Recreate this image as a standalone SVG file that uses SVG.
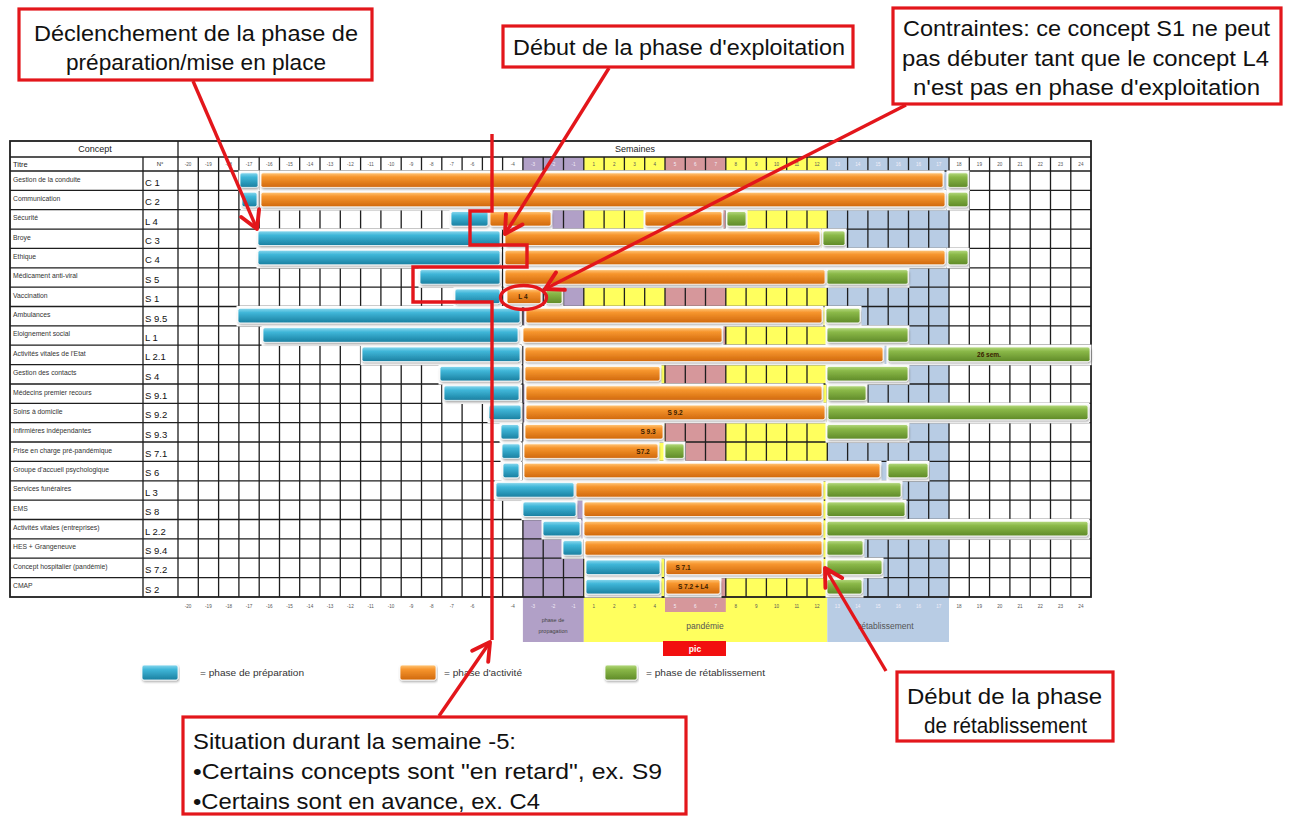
<svg xmlns="http://www.w3.org/2000/svg" width="1290" height="816" viewBox="0 0 1290 816">
<style>
text{font-family:"Liberation Sans",Arial,sans-serif}
.wk{font-size:4.6px;fill:#555;text-anchor:middle}
.wkw{fill:#f3eef8}
.ttl{font-size:6.8px;fill:#333}
.num{font-size:9.5px;fill:#111}
.hd{font-size:9px;fill:#222}
.bt{font-size:6.5px;font-weight:bold;fill:#3b1d00;text-anchor:middle}
.ann{font-size:22px;fill:#111}
.box{fill:#fff;stroke:#e3161b;stroke-width:3.2}
.red{fill:none;stroke:#e3161b;stroke-width:3.4}
.grid{stroke:#1e1e1e;stroke-width:1.3;fill:none}
.halo{fill:#fff}
.b{fill:url(#gb)}.o{fill:url(#go)}.g{fill:url(#gg)}
.bar{stroke:#fff;stroke-width:0.8;filter:url(#sh)}
.pu{fill:#b1a0c7}.ye{fill:#ffff5e}.pk{fill:#d6979b}.bl{fill:#b8cce4}
.lg{font-size:9px;fill:#333}
</style>
<defs>
<linearGradient id="gb" x1="0" y1="0" x2="0" y2="1"><stop offset="0" stop-color="#8ad8ee"/><stop offset="0.3" stop-color="#3fb6d8"/><stop offset="1" stop-color="#1a7fa0"/></linearGradient>
<linearGradient id="go" x1="0" y1="0" x2="0" y2="1"><stop offset="0" stop-color="#ffc77a"/><stop offset="0.28" stop-color="#f7962e"/><stop offset="1" stop-color="#d0680c"/></linearGradient>
<linearGradient id="gg" x1="0" y1="0" x2="0" y2="1"><stop offset="0" stop-color="#b5d97f"/><stop offset="0.3" stop-color="#8ab848"/><stop offset="1" stop-color="#5f8a28"/></linearGradient>
<filter id="sh" x="-5%" y="-30%" width="110%" height="170%"><feDropShadow dx="0.8" dy="1.5" stdDeviation="0.8" flood-color="#000" flood-opacity="0.35"/></filter>
<marker id="ah" markerUnits="userSpaceOnUse" markerWidth="26" markerHeight="26" viewBox="0 0 24 24" refX="21" refY="12" orient="auto"><path d="M5,3 L21,12 L5,21" fill="none" stroke="#e3161b" stroke-width="3.6" stroke-linecap="round" stroke-linejoin="round"/></marker>
</defs>
<rect width="1290" height="816" fill="#fff"/>

<g id="table">
<rect x="10" y="141" width="1081" height="456" fill="#fff"/>
<rect class="pu" x="522.9" y="157" width="60.9" height="440"/>
<rect class="ye" x="583.8" y="157" width="81.2" height="440"/>
<rect class="pk" x="665" y="157" width="60.8" height="440"/>
<rect class="ye" x="725.8" y="157" width="101.5" height="440"/>
<rect class="bl" x="827.3" y="157" width="121.7" height="440"/>
<rect class="pu" x="522.9" y="597" width="60.9" height="45"/>
<rect class="ye" x="583.8" y="597" width="243.5" height="45"/>
<rect class="pk" x="665" y="597" width="60.8" height="15"/>
<rect class="bl" x="827.3" y="597" width="121.7" height="45"/>
<path class="grid" d="M178,157V597M198.3,157V597M218.6,157V597M238.9,157V597M259.2,157V597M279.5,157V597M299.7,157V597M320,157V597M340.3,157V597M360.6,157V597M380.9,157V597M401.2,157V597M421.5,157V597M441.8,157V597M462.1,157V597M482.4,157V597M502.6,157V597M522.9,157V597M543.2,157V597M563.5,157V597M583.8,157V597M604.1,157V597M624.4,157V597M644.7,157V597M665,157V597M685.3,157V597M705.5,157V597M725.8,157V597M746.1,157V597M766.4,157V597M786.7,157V597M807,157V597M827.3,157V597M847.6,157V597M867.9,157V597M888.2,157V597M908.5,157V597M928.7,157V597M949,157V597M969.3,157V597M989.6,157V597M1009.9,157V597M1030.2,157V597M1050.5,157V597M1070.8,157V597"/>
<path class="grid" d="M10,157H1091M10,171H1091M10,190.4H1091M10,209.7H1091M10,229.1H1091M10,248.4H1091M10,267.8H1091M10,287.2H1091M10,306.5H1091M10,325.9H1091M10,345.2H1091M10,364.6H1091M10,384H1091M10,403.3H1091M10,422.7H1091M10,442H1091M10,461.4H1091M10,480.8H1091M10,500.1H1091M10,519.5H1091M10,538.8H1091M10,558.2H1091M10,577.6H1091M143,157V597M178,141V157"/>
<rect x="10" y="141" width="1081" height="456" fill="none" stroke="#1e1e1e" stroke-width="1.8"/>
<text class="hd" x="95" y="152" text-anchor="middle">Concept</text>
<text class="hd" x="635" y="152" text-anchor="middle">Semaines</text>
<text x="13" y="167" style="font-size:7.5px;fill:#222">Titre</text>
<text x="160" y="166" style="font-size:6px;fill:#222" text-anchor="middle">N°</text>
<g class="wk">
<text x="188.1" y="166">-20</text><text x="208.4" y="166">-19</text><text x="228.7" y="166">-18</text><text x="249" y="166">-17</text><text x="269.3" y="166">-16</text><text x="289.6" y="166">-15</text><text x="309.9" y="166">-14</text><text x="330.1" y="166">-13</text><text x="350.4" y="166">-12</text><text x="370.7" y="166">-11</text><text x="391" y="166">-10</text><text x="411.3" y="166">-9</text><text x="431.6" y="166">-8</text><text x="451.9" y="166">-7</text><text x="472.2" y="166">-6</text><text x="512.8" y="166">-4</text>
<text class="wkw" x="533" y="166">-3</text><text class="wkw" x="553.3" y="166">-2</text><text class="wkw" x="573.6" y="166">-1</text>
<text x="593.9" y="166">1</text><text x="614.2" y="166">2</text><text x="634.5" y="166">3</text><text x="654.8" y="166">4</text>
<text class="wkw" x="675.1" y="166">5</text><text class="wkw" x="695.4" y="166">6</text><text class="wkw" x="715.7" y="166">7</text>
<text x="735.9" y="166">8</text><text x="756.2" y="166">9</text><text x="776.5" y="166">10</text><text x="796.8" y="166">11</text><text x="817.1" y="166">12</text>
<text class="wkw" x="837.4" y="166">13</text><text class="wkw" x="857.7" y="166">14</text><text class="wkw" x="878" y="166">15</text><text class="wkw" x="898.3" y="166">16</text><text class="wkw" x="918.6" y="166">16</text><text class="wkw" x="938.8" y="166">17</text>
<text x="959.1" y="166">18</text><text x="979.4" y="166">19</text><text x="999.7" y="166">20</text><text x="1020" y="166">21</text><text x="1040.3" y="166">22</text><text x="1060.6" y="166">23</text><text x="1080.9" y="166">24</text>
</g>
<g class="wk">
<text x="188.1" y="608">-20</text><text x="208.4" y="608">-19</text><text x="228.7" y="608">-18</text><text x="249" y="608">-17</text><text x="269.3" y="608">-16</text><text x="289.6" y="608">-15</text><text x="309.9" y="608">-14</text><text x="330.1" y="608">-13</text><text x="350.4" y="608">-12</text><text x="370.7" y="608">-11</text><text x="391" y="608">-10</text><text x="411.3" y="608">-9</text><text x="431.6" y="608">-8</text><text x="451.9" y="608">-7</text><text x="472.2" y="608">-6</text><text x="512.8" y="608">-4</text>
<text class="wkw" x="533" y="608">-3</text><text class="wkw" x="553.3" y="608">-2</text><text class="wkw" x="573.6" y="608">-1</text>
<text x="593.9" y="608">1</text><text x="614.2" y="608">2</text><text x="634.5" y="608">3</text><text x="654.8" y="608">4</text>
<text class="wkw" x="675.1" y="608">5</text><text class="wkw" x="695.4" y="608">6</text><text class="wkw" x="715.7" y="608">7</text>
<text x="735.9" y="608">8</text><text x="756.2" y="608">9</text><text x="776.5" y="608">10</text><text x="796.8" y="608">11</text><text x="817.1" y="608">12</text>
<text class="wkw" x="837.4" y="608">13</text><text class="wkw" x="857.7" y="608">14</text><text class="wkw" x="878" y="608">15</text><text class="wkw" x="898.3" y="608">16</text><text class="wkw" x="918.6" y="608">16</text><text class="wkw" x="938.8" y="608">17</text>
<text x="959.1" y="608">18</text><text x="979.4" y="608">19</text><text x="999.7" y="608">20</text><text x="1020" y="608">21</text><text x="1040.3" y="608">22</text><text x="1060.6" y="608">23</text><text x="1080.9" y="608">24</text>
</g>
<text x="553" y="622" style="font-size:5.5px;fill:#444" text-anchor="middle">phase de</text>
<text x="553" y="633" style="font-size:5.5px;fill:#444" text-anchor="middle">propagation</text>
<text x="705" y="629" style="font-size:8.5px;fill:#555" text-anchor="middle">pandémie</text>
<text x="886" y="629" style="font-size:8.5px;fill:#555" text-anchor="middle">rétablissement</text>
<rect x="663" y="641" width="63" height="15" fill="#f20f0f"/>
<text x="695" y="652" style="font-size:8.5px;font-weight:bold;fill:#fff" text-anchor="middle">pic</text>
<g class="ttl">
<text x="13" y="181.5">Gestion de la conduite</text>
<text x="13" y="200.9">Communication</text>
<text x="13" y="220.2">Sécurité</text>
<text x="13" y="239.6">Broye</text>
<text x="13" y="258.9">Ethique</text>
<text x="13" y="278.3">Médicament anti-viral</text>
<text x="13" y="297.7">Vaccination</text>
<text x="13" y="317">Ambulances</text>
<text x="13" y="336.4">Eloignement social</text>
<text x="13" y="355.7">Activités vitales de l'Etat</text>
<text x="13" y="375.1">Gestion des contacts</text>
<text x="13" y="394.5">Médecins premier recours</text>
<text x="13" y="413.8">Soins à domicile</text>
<text x="13" y="433.2">Infirmières indépendantes</text>
<text x="13" y="452.5">Prise en charge pré-pandémique</text>
<text x="13" y="471.9">Groupe d'accueil psychologique</text>
<text x="13" y="491.3">Services funéraires</text>
<text x="13" y="510.6">EMS</text>
<text x="13" y="530">Activités vitales (entreprises)</text>
<text x="13" y="549.3">HES + Grangeneuve</text>
<text x="13" y="568.7">Concept hospitalier (pandémie)</text>
<text x="13" y="588.1">CMAP</text>
</g>
<g class="num">
<text x="145" y="186">C 1</text>
<text x="145" y="205.4">C 2</text>
<text x="145" y="224.7">L 4</text>
<text x="145" y="244.1">C 3</text>
<text x="145" y="263.4">C 4</text>
<text x="145" y="282.8">S 5</text>
<text x="145" y="302.2">S 1</text>
<text x="145" y="321.5">S 9.5</text>
<text x="145" y="340.9">L 1</text>
<text x="145" y="360.2">L 2.1</text>
<text x="145" y="379.6">S 4</text>
<text x="145" y="399">S 9.1</text>
<text x="145" y="418.3">S 9.2</text>
<text x="145" y="437.7">S 9.3</text>
<text x="145" y="457">S 7.1</text>
<text x="145" y="476.4">S 6</text>
<text x="145" y="495.8">L 3</text>
<text x="145" y="515.1">S 8</text>
<text x="145" y="534.5">L 2.2</text>
<text x="145" y="553.8">S 9.4</text>
<text x="145" y="573.2">S 7.2</text>
<text x="145" y="592.6">S 2</text>
</g>
</g>

<g id="halos" class="halo">
<rect x="238.5" y="170.4" width="21" height="20.6"/><rect x="259.5" y="170.4" width="685" height="20.6"/><rect x="946.5" y="170.4" width="23" height="20.6"/>
<rect x="240.5" y="189.8" width="18" height="20.6"/><rect x="259.5" y="189.8" width="687" height="20.6"/><rect x="946.5" y="189.8" width="23" height="20.6"/>
<rect x="449.5" y="209.1" width="40" height="20.6"/><rect x="488.5" y="209.1" width="64" height="20.6"/><rect x="643.5" y="209.1" width="80" height="20.6"/><rect x="725.5" y="209.1" width="22" height="20.6"/>
<rect x="256.5" y="228.5" width="245" height="20.6"/><rect x="503.5" y="228.5" width="318" height="20.6"/><rect x="821.5" y="228.5" width="25" height="20.6"/>
<rect x="256.5" y="247.8" width="245" height="20.6"/><rect x="503.5" y="247.8" width="443" height="20.6"/><rect x="946.5" y="247.8" width="23" height="20.6"/>
<rect x="418.5" y="267.2" width="83" height="20.6"/><rect x="503.5" y="267.2" width="323" height="20.6"/><rect x="825.5" y="267.2" width="84" height="20.6"/>
<rect x="453.5" y="286.6" width="48" height="20.6"/><rect x="505.5" y="286.6" width="37" height="20.6"/><rect x="544.5" y="286.6" width="19" height="20.6"/>
<rect x="236.5" y="305.9" width="285" height="20.6"/><rect x="524.5" y="305.9" width="299" height="20.6"/><rect x="824.5" y="305.9" width="37" height="20.6"/>
<rect x="261.5" y="325.3" width="258" height="20.6"/><rect x="521.5" y="325.3" width="202" height="20.6"/><rect x="825.5" y="325.3" width="84" height="20.6"/>
<rect x="360.5" y="344.6" width="161" height="20.6"/><rect x="523.5" y="344.6" width="361" height="20.6"/><rect x="886.5" y="344.6" width="205" height="20.6"/>
<rect x="438.5" y="364" width="83" height="20.6"/><rect x="523.5" y="364" width="138" height="20.6"/><rect x="825.5" y="364" width="84" height="20.6"/>
<rect x="442.5" y="383.4" width="78" height="20.6"/><rect x="524.5" y="383.4" width="299" height="20.6"/><rect x="826.5" y="383.4" width="41" height="20.6"/>
<rect x="487.5" y="402.7" width="35" height="20.6"/><rect x="524.5" y="402.7" width="302" height="20.6"/><rect x="826.5" y="402.7" width="263" height="20.6"/>
<rect x="499.5" y="422.1" width="21" height="20.6"/><rect x="523.5" y="422.1" width="141" height="20.6"/><rect x="825.5" y="422.1" width="84" height="20.6"/>
<rect x="500.5" y="441.4" width="21" height="20.6"/><rect x="522.5" y="441.4" width="137" height="20.6"/><rect x="663.5" y="441.4" width="22" height="20.6"/>
<rect x="501.5" y="460.8" width="19" height="20.6"/><rect x="522.5" y="460.8" width="359" height="20.6"/><rect x="886.5" y="460.8" width="43" height="20.6"/>
<rect x="494.5" y="480.2" width="81" height="20.6"/><rect x="574.5" y="480.2" width="249" height="20.6"/><rect x="825.5" y="480.2" width="77" height="20.6"/>
<rect x="521.5" y="499.5" width="56" height="20.6"/><rect x="582.5" y="499.5" width="241" height="20.6"/><rect x="825.5" y="499.5" width="81" height="20.6"/>
<rect x="541.5" y="518.9" width="40" height="20.6"/><rect x="582.5" y="518.9" width="241" height="20.6"/><rect x="825.5" y="518.9" width="264" height="20.6"/>
<rect x="561.5" y="538.2" width="22" height="20.6"/><rect x="583.5" y="538.2" width="240" height="20.6"/><rect x="825.5" y="538.2" width="39" height="20.6"/>
<rect x="584.5" y="557.6" width="77" height="20.6"/><rect x="664.5" y="557.6" width="159" height="20.6"/><rect x="825.5" y="557.6" width="58" height="20.6"/>
<rect x="584.5" y="577" width="77" height="20.6"/><rect x="664.5" y="577" width="57" height="20.6"/><rect x="825.5" y="577" width="38" height="20.6"/>
</g>

<g id="row-C1"><rect class="bar b" x="240" y="172.8" width="18" height="14.6" rx="2"/><rect class="bar o" x="261" y="172.8" width="682" height="14.6" rx="2"/><rect class="bar g" x="948" y="172.8" width="20" height="14.6" rx="2"/></g>
<g id="row-C2"><rect class="bar b" x="242" y="192.2" width="15" height="14.6" rx="2"/><rect class="bar o" x="261" y="192.2" width="684" height="14.6" rx="2"/><rect class="bar g" x="948" y="192.2" width="20" height="14.6" rx="2"/></g>
<g id="row-L4"><rect class="bar b" x="451" y="211.5" width="37" height="14.6" rx="2"/><rect class="bar o" x="490" y="211.5" width="61" height="14.6" rx="2"/><rect class="bar o" x="645" y="211.5" width="77" height="14.6" rx="2"/><rect class="bar g" x="727" y="211.5" width="19" height="14.6" rx="2"/></g>
<g id="row-C3"><rect class="bar b" x="258" y="230.9" width="242" height="14.6" rx="2"/><rect class="bar o" x="505" y="230.9" width="315" height="14.6" rx="2"/><rect class="bar g" x="823" y="230.9" width="22" height="14.6" rx="2"/></g>
<g id="row-C4"><rect class="bar b" x="258" y="250.2" width="242" height="14.6" rx="2"/><rect class="bar o" x="505" y="250.2" width="440" height="14.6" rx="2"/><rect class="bar g" x="948" y="250.2" width="20" height="14.6" rx="2"/></g>
<g id="row-S5"><rect class="bar b" x="420" y="269.6" width="80" height="14.6" rx="2"/><rect class="bar o" x="505" y="269.6" width="320" height="14.6" rx="2"/><rect class="bar g" x="827" y="269.6" width="81" height="14.6" rx="2"/></g>
<g id="row-S1"><rect class="bar b" x="455" y="289" width="45" height="14.6" rx="2"/><rect class="bar o" x="507" y="289" width="34" height="14.6" rx="2"/><text class="bt" x="523" y="298.5">L 4</text><rect class="bar g" x="546" y="289" width="16" height="14.6" rx="2"/></g>
<g id="row-S9.5"><rect class="bar b" x="238" y="308.3" width="282" height="14.6" rx="2"/><rect class="bar o" x="526" y="308.3" width="296" height="14.6" rx="2"/><rect class="bar g" x="826" y="308.3" width="34" height="14.6" rx="2"/></g>
<g id="row-L1"><rect class="bar b" x="263" y="327.7" width="255" height="14.6" rx="2"/><rect class="bar o" x="523" y="327.7" width="199" height="14.6" rx="2"/><rect class="bar g" x="827" y="327.7" width="81" height="14.6" rx="2"/></g>
<g id="row-L2.1"><rect class="bar b" x="362" y="347" width="158" height="14.6" rx="2"/><rect class="bar o" x="525" y="347" width="358" height="14.6" rx="2"/><rect class="bar g" x="888" y="347" width="202" height="14.6" rx="2"/><text class="bt" x="989" y="356.6">26 sem.</text></g>
<g id="row-S4"><rect class="bar b" x="440" y="366.4" width="80" height="14.6" rx="2"/><rect class="bar o" x="525" y="366.4" width="135" height="14.6" rx="2"/><rect class="bar g" x="827" y="366.4" width="81" height="14.6" rx="2"/></g>
<g id="row-S9.1"><rect class="bar b" x="444" y="385.8" width="75" height="14.6" rx="2"/><rect class="bar o" x="526" y="385.8" width="296" height="14.6" rx="2"/><rect class="bar g" x="828" y="385.8" width="38" height="14.6" rx="2"/></g>
<g id="row-S9.2"><rect class="bar b" x="489" y="405.1" width="32" height="14.6" rx="2"/><rect class="bar o" x="526" y="405.1" width="299" height="14.6" rx="2"/><text class="bt" x="675" y="414.8">S 9.2</text><rect class="bar g" x="828" y="405.1" width="260" height="14.6" rx="2"/></g>
<g id="row-S9.3"><rect class="bar b" x="501" y="424.5" width="18" height="14.6" rx="2"/><rect class="bar o" x="525" y="424.5" width="138" height="14.6" rx="2"/><text class="bt" x="648" y="434.2">S 9.3</text><rect class="bar g" x="827" y="424.5" width="81" height="14.6" rx="2"/></g>
<g id="row-S7.1"><rect class="bar b" x="502" y="443.8" width="18" height="14.6" rx="2"/><rect class="bar o" x="524" y="443.8" width="134" height="14.6" rx="2"/><text class="bt" x="643" y="453.5">S7.2</text><rect class="bar g" x="665" y="443.8" width="19" height="14.6" rx="2"/></g>
<g id="row-S6"><rect class="bar b" x="503" y="463.2" width="16" height="14.6" rx="2"/><rect class="bar o" x="524" y="463.2" width="356" height="14.6" rx="2"/><rect class="bar g" x="888" y="463.2" width="40" height="14.6" rx="2"/></g>
<g id="row-L3"><rect class="bar b" x="496" y="482.6" width="78" height="14.6" rx="2"/><rect class="bar o" x="576" y="482.6" width="246" height="14.6" rx="2"/><rect class="bar g" x="827" y="482.6" width="74" height="14.6" rx="2"/></g>
<g id="row-S8"><rect class="bar b" x="523" y="501.9" width="53" height="14.6" rx="2"/><rect class="bar o" x="584" y="501.9" width="238" height="14.6" rx="2"/><rect class="bar g" x="827" y="501.9" width="78" height="14.6" rx="2"/></g>
<g id="row-L2.2"><rect class="bar b" x="543" y="521.3" width="37" height="14.6" rx="2"/><rect class="bar o" x="584" y="521.3" width="238" height="14.6" rx="2"/><rect class="bar g" x="827" y="521.3" width="261" height="14.6" rx="2"/></g>
<g id="row-S9.4"><rect class="bar b" x="563" y="540.6" width="19" height="14.6" rx="2"/><rect class="bar o" x="585" y="540.6" width="237" height="14.6" rx="2"/><rect class="bar g" x="827" y="540.6" width="36" height="14.6" rx="2"/></g>
<g id="row-S7.2"><rect class="bar b" x="586" y="560" width="74" height="14.6" rx="2"/><rect class="bar o" x="666" y="560" width="156" height="14.6" rx="2"/><text class="bt" x="683" y="569.7">S 7.1</text><rect class="bar g" x="827" y="560" width="55" height="14.6" rx="2"/></g>
<g id="row-S2"><rect class="bar b" x="586" y="579.4" width="74" height="14.6" rx="2"/><rect class="bar o" x="666" y="579.4" width="54" height="14.6" rx="2"/><text class="bt" x="693" y="589.1">S 7.2 + L4</text><rect class="bar g" x="827" y="579.4" width="35" height="14.6" rx="2"/></g>

<g id="legend">
<rect class="bar b" x="142" y="665" width="36" height="15" rx="2"/><text class="lg" x="200" y="675.5" textLength="104" lengthAdjust="spacingAndGlyphs">= phase de préparation</text>
<rect class="bar o" x="400" y="665" width="36" height="15" rx="2"/><text class="lg" x="444" y="675.5" textLength="78" lengthAdjust="spacingAndGlyphs">= phase d'activité</text>
<rect class="bar g" x="605" y="665" width="32" height="15" rx="2"/><text class="lg" x="646" y="675.5" textLength="119" lengthAdjust="spacingAndGlyphs">= phase de rétablissement</text>
</g>

<g id="note-declenchement">
<rect class="box" x="19" y="9" width="353" height="71"/>
<text class="ann" x="34" y="41" textLength="324" lengthAdjust="spacingAndGlyphs">Déclenchement de la phase de</text>
<text class="ann" x="66" y="70" textLength="260" lengthAdjust="spacingAndGlyphs">préparation/mise en place</text>
</g>
<g id="note-exploitation">
<rect class="box" x="503" y="26" width="350" height="41"/>
<text class="ann" x="513" y="55" textLength="332" lengthAdjust="spacingAndGlyphs">Début de la phase d'exploitation</text>
</g>
<g id="note-contraintes">
<rect class="box" x="893" y="8" width="388" height="96"/>
<text class="ann" x="903" y="36" textLength="367" lengthAdjust="spacingAndGlyphs">Contraintes: ce concept S1 ne peut</text>
<text class="ann" x="902" y="66" textLength="367" lengthAdjust="spacingAndGlyphs">pas débuter tant que le concept L4</text>
<text class="ann" x="913" y="95" textLength="347" lengthAdjust="spacingAndGlyphs">n'est pas en phase d'exploitation</text>
</g>
<g id="note-retablissement">
<rect class="box" x="897" y="672" width="216" height="69"/>
<text class="ann" x="907" y="704" textLength="195" lengthAdjust="spacingAndGlyphs">Début de la phase</text>
<text class="ann" x="924" y="733" textLength="163" lengthAdjust="spacingAndGlyphs">de rétablissement</text>
</g>
<g id="note-situation">
<rect class="box" x="183" y="717" width="503" height="97"/>
<text class="ann" x="193" y="749" textLength="323" lengthAdjust="spacingAndGlyphs">Situation durant la semaine -5:</text>
<text class="ann" x="193" y="779" textLength="469" lengthAdjust="spacingAndGlyphs">•Certains concepts sont "en retard", ex. S9</text>
<text class="ann" x="193" y="809" textLength="347" lengthAdjust="spacingAndGlyphs">•Certains sont en avance, ex. C4</text>
</g>

<g id="connectors">
<path class="red" d="M492,134V211H470V245H527V267H413V302H492V640"/>
<ellipse cx="523.5" cy="297.5" rx="23" ry="12" class="red"/>
<line class="red" x1="193" y1="81" x2="257" y2="229" marker-end="url(#ah)"/>
<line class="red" x1="609" y1="68" x2="505" y2="234" marker-end="url(#ah)"/>
<line class="red" x1="906" y1="105" x2="545" y2="289" marker-end="url(#ah)"/>
<line class="red" x1="886" y1="671" x2="825" y2="568" marker-end="url(#ah)"/>
<line class="red" x1="439" y1="716" x2="490" y2="642" marker-end="url(#ah)"/>
</g>
</svg>
